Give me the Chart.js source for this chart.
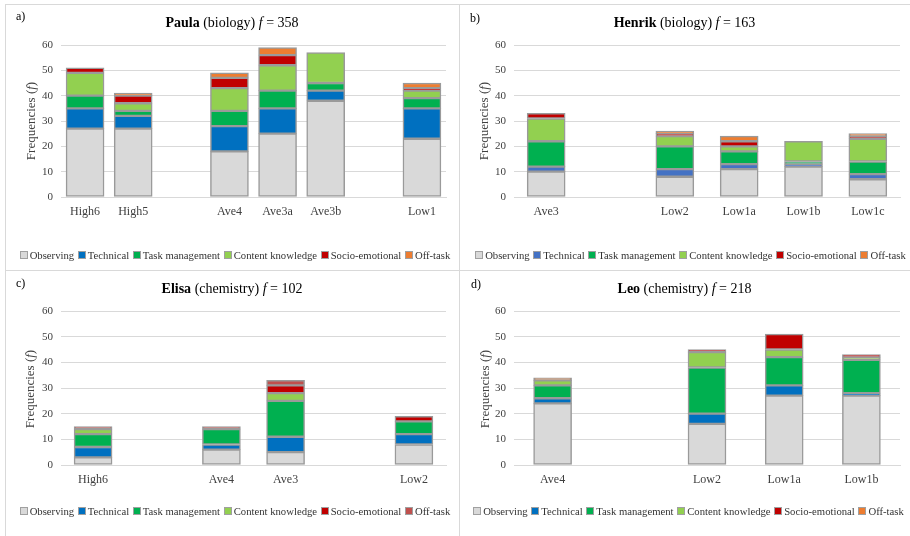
<!DOCTYPE html>
<html>
<head>
<meta charset="utf-8">
<script src="https://cdn.jsdelivr.net/npm/chart.js@4"></script>
<style>
  html, body { margin: 0; padding: 0; background: #fff; }
  #page { position: relative; width: 910px; height: 536px; overflow: hidden; font-family: "Liberation Serif", "Times New Roman", serif; }
  .rule { position: absolute; background: #D9D9D9; }
  canvas { position: absolute; }
  .title { position: absolute; font-size: 14px; line-height: 16px; color: #000; white-space: nowrap; text-align: center; }
  .tag { position: absolute; font-size: 12px; line-height: 12px; color: #000; }
  .ytitle { position: absolute; font-size: 13px; line-height: 14px; color: #404040; white-space: nowrap; transform: translate(-50%, -50%) rotate(-90deg); }
  .legend { position: absolute; display: flex; justify-content: center; align-items: center; white-space: nowrap; font-size: 10.7px; line-height: 12px; color: #333; }
  .legend .item { display: flex; align-items: center; margin: 0 1.8px; }
  .legend .swatch { width: 6px; height: 6px; border: 1px solid #A0A0A0; margin-right: 2px; }
</style>
</head>
<body>
<div id="page">
  <div class="rule" style="left:5px; top:4px; width:905px; height:1px;"></div>
  <div class="rule" style="left:5px; top:270px; width:905px; height:1px;"></div>
  <div class="rule" style="left:5px; top:4px; width:1px; height:532px;"></div>
  <div class="rule" style="left:459px; top:4px; width:1px; height:532px;"></div>

  <canvas id="chartA" width="454" height="266" style="left:5px; top:4px;"></canvas>
  <canvas id="chartB" width="451" height="266" style="left:459px; top:4px;"></canvas>
  <canvas id="chartC" width="454" height="266" style="left:5px; top:270px;"></canvas>
  <canvas id="chartD" width="451" height="266" style="left:459px; top:270px;"></canvas>

  <div class="tag" style="left:16px; top:10px;">a)</div>
  <div class="tag" style="left:470px; top:12px;">b)</div>
  <div class="tag" style="left:16px; top:277px;">c)</div>
  <div class="tag" style="left:471px; top:278px;">d)</div>

  <div class="title" style="left:5px; width:454px; top:15px;"><b>Paula</b> (biology) <i>f</i> = 358</div>
  <div class="title" style="left:459px; width:451px; top:15px;"><b>Henrik</b> (biology) <i>f</i> = 163</div>
  <div class="title" style="left:5px; width:454px; top:281px;"><b>Elisa</b> (chemistry) <i>f</i> = 102</div>
  <div class="title" style="left:459px; width:451px; top:281px;"><b>Leo</b> (chemistry) <i>f</i> = 218</div>

  <div class="ytitle" style="left:31px; top:121px;">Frequencies (<i>f</i>)</div>
  <div class="ytitle" style="left:484px; top:121px;">Frequencies (<i>f</i>)</div>
  <div class="ytitle" style="left:30px; top:389px;">Frequencies (<i>f</i>)</div>
  <div class="ytitle" style="left:485px; top:389px;">Frequencies (<i>f</i>)</div>

  <div class="legend" id="legendA" style="left:8px; width:454px; top:249px;"></div>
  <div class="legend" id="legendB" style="left:465px; width:451px; top:249px;"></div>
  <div class="legend" id="legendC" style="left:8px; width:454px; top:505px;"></div>
  <div class="legend" id="legendD" style="left:463px; width:451px; top:505px;"></div>
</div>

<script>
// Interaction categories (stack order, bottom to top)
const categoryNames = ['Observing', 'Technical', 'Task management', 'Content knowledge', 'Socio-emotional', 'Off-task'];

// a) Paula (biology) — empty labels leave a gap between ability groups
const paulaLessons   = ['High6', 'High5', '', 'Ave4', 'Ave3a', 'Ave3b', '', 'Low1'];
const paulaObserving = [27, 27, null, 18, 25, 38, null, 23];
const paulaTechnical = [8, 5, null, 10, 10, 4, null, 12];
const paulaTask      = [5, 2, null, 6, 7, 3, null, 4];
const paulaContent   = [9, 3, null, 9, 10, 12, null, 3];
const paulaSocio     = [2, 3, null, 4, 4, 0, null, 1];
const paulaOffTask   = [0, 1, null, 2, 3, 0, null, 2];

// b) Henrik (biology)
const henrikLessons   = ['Ave3', '', 'Low2', 'Low1a', 'Low1b', 'Low1c'];
const henrikObserving = [10, null, 8, 11, 12, 7];
const henrikTechnical = [2, null, 3, 2, 1, 2];
const henrikTask      = [10, null, 9, 5, 1, 5];
const henrikContent   = [9, null, 4, 2, 8, 9];
const henrikSocio     = [2, null, 1, 2, 0, 1];
const henrikOffTask   = [0, null, 1, 2, 0, 1];

// c) Elisa (chemistry)
const elisaLessons   = ['High6', '', 'Ave4', 'Ave3', '', 'Low2'];
const elisaObserving = [3, null, 6, 5, null, 8];
const elisaTechnical = [4, null, 2, 6, null, 4];
const elisaTask      = [5, null, 6, 14, null, 5];
const elisaContent   = [2, null, 0, 3, null, 0];
const elisaSocio     = [0, null, 0, 3, null, 2];
const elisaOffTask   = [1, null, 1, 2, null, 0];

// d) Leo (chemistry)
const leoLessons   = ['Ave4', '', 'Low2', 'Low1a', 'Low1b'];
const leoObserving = [24, null, 16, 27, 27];
const leoTechnical = [2, null, 4, 4, 1];
const leoTask      = [5, null, 18, 11, 13];
const leoContent   = [2, null, 6, 3, 1];
const leoSocio     = [0, null, 1, 6, 1];
const leoOffTask   = [1, null, 0, 0, 0];

// y-axis ticks
const yMin = 0, yMax = 60, yStep = 10;

const paletteA = ['#D9D9D9', '#0070C0', '#00B050', '#92D050', '#C00000', '#ED7D31'];
const paletteB = ['#D9D9D9', '#4472C4', '#00B050', '#92D050', '#C00000', '#ED7D31'];
const paletteC = ['#D9D9D9', '#0070C0', '#00B050', '#92D050', '#C00000', '#C0504D'];

const serif = 'Liberation Serif';
const textGrey = '#404040';

// Compact one-line legend built from the chart's own legend items
function htmlLegend(chart, targetId) {
  const target = document.getElementById(targetId);
  target.innerHTML = '';
  chart.options.plugins.legend.labels.generateLabels(chart).forEach(item => {
    const el = document.createElement('span');
    el.className = 'item';
    const sw = document.createElement('span');
    sw.className = 'swatch';
    sw.style.background = item.fillStyle;
    el.appendChild(sw);
    el.appendChild(document.createTextNode(item.text));
    target.appendChild(el);
  });
}

function stackedChart(id, labels, series, palette, box) {
  const datasets = categoryNames.map((name, i) => ({
    label: name,
    data: series[i],
    backgroundColor: palette[i],
    borderColor: '#9A9A9A',
    borderWidth: 1.5,
    borderSkipped: false,
    barThickness: 38
  }));
  return new Chart(document.getElementById(id), {
    type: 'bar',
    data: { labels: labels, datasets: datasets },
    options: {
      responsive: false,
      animation: false,
      layout: { padding: { left: 0, right: box.padRight, top: 41, bottom: box.padBottom } },
      plugins: {
        legend: { display: false },
        tooltip: { enabled: false },
        title: { display: false }
      },
      scales: {
        x: {
          stacked: true,
          grid: { display: false, drawTicks: false },
          border: { display: true, color: '#D9D9D9', width: 1 },
          ticks: { font: { family: serif, size: 12 }, color: textGrey, padding: 8, autoSkip: false, maxRotation: 0 },
          afterFit: s => { s.height = 30; }
        },
        y: {
          stacked: true,
          min: yMin,
          max: yMax,
          grid: { color: '#D9D9D9', lineWidth: 1, drawTicks: false },
          border: { display: false },
          ticks: { stepSize: yStep, font: { family: serif, size: 11 }, color: textGrey, padding: 8 },
          afterFit: s => { s.width = box.yWidth; }
        }
      }
    }
  });
}

const chartA = stackedChart('chartA', paulaLessons,
  [paulaObserving, paulaTechnical, paulaTask, paulaContent, paulaSocio, paulaOffTask],
  paletteA, { yWidth: 56, padRight: 13, padBottom: 43 });

const chartB = stackedChart('chartB', henrikLessons,
  [henrikObserving, henrikTechnical, henrikTask, henrikContent, henrikSocio, henrikOffTask],
  paletteB, { yWidth: 55, padRight: 10, padBottom: 43 });

const chartC = stackedChart('chartC', elisaLessons,
  [elisaObserving, elisaTechnical, elisaTask, elisaContent, elisaSocio, elisaOffTask],
  paletteC, { yWidth: 56, padRight: 13, padBottom: 41 });

const chartD = stackedChart('chartD', leoLessons,
  [leoObserving, leoTechnical, leoTask, leoContent, leoSocio, leoOffTask],
  paletteA, { yWidth: 55, padRight: 10, padBottom: 41 });

htmlLegend(chartA, 'legendA');
htmlLegend(chartB, 'legendB');
htmlLegend(chartC, 'legendC');
htmlLegend(chartD, 'legendD');
</script>
</body>
</html>
